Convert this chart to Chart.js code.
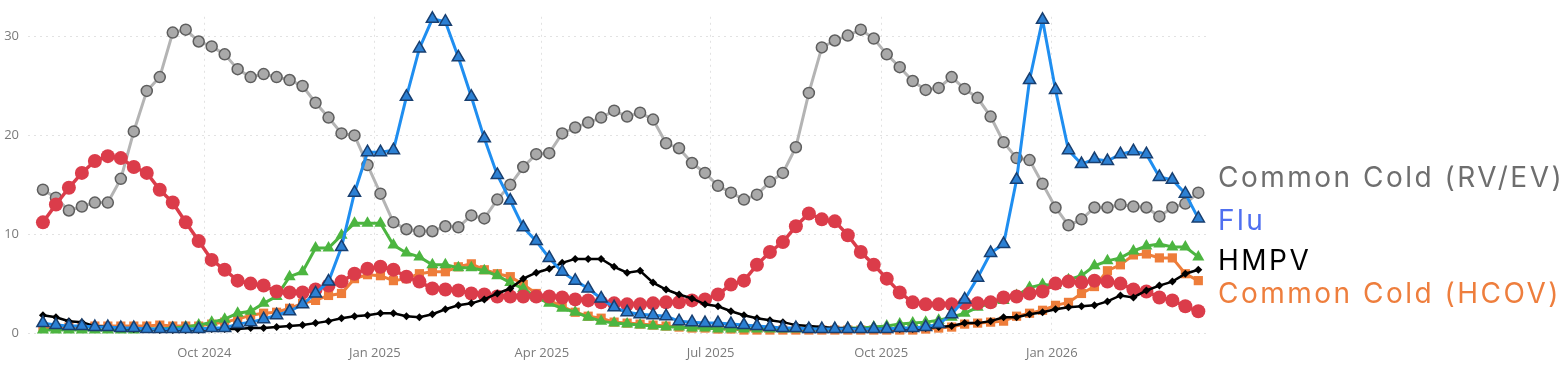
<!DOCTYPE html>
<html>
<head>
<meta charset="utf-8">
<script src="https://cdn.jsdelivr.net/npm/chart.js@4.4.1/dist/chart.umd.min.js"></script>
<style>
  html, body { margin: 0; padding: 0; background: #fff; }
  #wrap { width: 1567px; height: 385px; }
</style>
</head>
<body>
<div id="wrap"><canvas id="chartcanvas" width="1567" height="385"></canvas></div>
<script>
// weekly points, first week ending 2024-07-06
var firstWeek = '2024-07-06';

var xTickDates = ['2024-10-01', '2025-01-01', '2025-04-01', '2025-07-01', '2025-10-01', '2026-01-01'];
var xTickLabels = ['Oct 2024', 'Jan 2025', 'Apr 2025', 'Jul 2025', 'Oct 2025', 'Jan 2026'];
var yTicks = [0, 10, 20, 30];

var rvev = [14.5,13.7,12.4,12.8,13.2,13.2,15.6,20.4,24.5,25.9,
            30.4,30.7,29.5,29.0,28.2,26.7,25.9,26.2,25.9,25.6,
            25.0,23.3,21.8,20.2,20.0,17.0,14.1,11.2,10.5,10.3,
            10.3,10.8,10.7,11.9,11.6,13.5,15.0,16.8,18.1,18.2,
            20.2,20.8,21.3,21.8,22.5,21.9,22.3,21.6,19.2,18.7,
            17.2,16.2,14.9,14.2,13.5,14.0,15.3,16.2,18.8,24.3,
            28.9,29.6,30.1,30.7,29.8,28.2,26.9,25.5,24.6,24.8,
            25.9,24.7,23.8,21.9,19.3,17.7,17.5,15.1,12.7,10.9,
            11.5,12.7,12.7,13.0,12.8,12.7,11.8,12.7,13.1,14.2];

var flu = [1.0,0.8,0.7,0.7,0.6,0.6,0.5,0.5,0.4,0.4,
           0.4,0.4,0.4,0.5,0.5,0.9,1.1,1.4,1.8,2.2,
           2.9,4.0,5.2,8.7,14.2,18.3,18.3,18.5,23.9,28.8,
           31.8,31.5,27.9,23.9,19.7,16.0,13.4,10.7,9.3,7.6,
           6.2,5.3,4.5,3.5,2.6,2.1,1.9,1.8,1.7,1.2,
           1.1,1.0,1.0,0.9,0.8,0.7,0.6,0.5,0.5,0.4,
           0.4,0.4,0.4,0.4,0.4,0.4,0.5,0.5,0.6,0.9,
           1.9,3.4,5.6,8.1,9.0,15.5,25.6,31.7,24.6,18.5,
           17.1,17.6,17.4,18.1,18.4,18.1,15.8,15.5,14.1,11.6];

var hmpv = [1.8,1.6,1.2,1.1,0.7,0.6,0.5,0.4,0.4,0.3,
            0.3,0.3,0.3,0.4,0.4,0.4,0.5,0.5,0.6,0.7,
            0.8,1.0,1.2,1.5,1.7,1.8,2.0,2.0,1.7,1.6,
            1.9,2.4,2.8,3.0,3.4,4.0,4.5,5.5,6.1,6.5,
            7.1,7.5,7.5,7.5,6.7,6.1,6.3,5.1,4.4,3.9,
            3.5,2.9,2.7,2.2,1.8,1.5,1.3,1.1,0.8,0.7,
            0.6,0.5,0.5,0.4,0.4,0.4,0.4,0.4,0.5,0.6,
            0.7,1.0,1.0,1.2,1.6,1.6,1.9,2.1,2.4,2.6,
            2.7,2.8,3.2,3.8,3.6,4.3,4.8,5.2,6.0,6.4];

var hcov = [0.5,0.5,0.6,0.6,0.7,0.7,0.7,0.7,0.7,0.8,
            0.7,0.7,0.7,0.9,1.1,1.4,1.8,2.0,2.1,2.5,
            3.0,3.3,3.8,4.0,5.5,5.9,5.8,5.3,5.5,6.0,
            6.2,6.2,6.7,7.0,6.4,6.0,5.7,4.9,4.0,3.3,
            2.7,2.1,1.7,1.5,1.1,1.0,0.9,0.8,0.7,0.6,
            0.5,0.5,0.4,0.4,0.3,0.3,0.3,0.3,0.3,0.3,
            0.3,0.3,0.3,0.3,0.3,0.3,0.3,0.3,0.4,0.5,
            0.6,0.9,1.0,1.1,1.2,1.7,2.0,2.3,2.8,3.1,
            4.0,4.7,6.3,6.9,7.9,8.0,7.6,7.6,6.0,5.3];

// unlabelled series (red circles, green triangles)
var redValues = [11.2,13.0,14.7,16.2,17.4,17.9,17.7,16.8,16.2,14.5,
                 13.2,11.2,9.3,7.4,6.4,5.3,5.0,4.8,4.2,4.1,
                 4.1,4.4,4.8,5.2,6.0,6.5,6.7,6.4,5.7,5.2,
                 4.5,4.4,4.3,4.0,3.9,3.7,3.7,3.7,3.7,3.7,
                 3.6,3.4,3.3,3.1,3.0,2.9,2.9,3.0,3.1,3.1,
                 3.3,3.4,3.9,4.9,5.3,6.9,8.2,9.2,10.8,12.1,
                 11.5,11.3,9.9,8.2,6.9,5.5,4.1,3.1,2.9,2.9,
                 2.9,3.0,3.0,3.1,3.6,3.7,4.0,4.2,5.0,5.2,
                 5.1,5.3,5.2,5.0,4.4,4.2,3.6,3.3,2.7,2.2];

var greenValues = [0.3,0.3,0.3,0.3,0.3,0.3,0.3,0.3,0.4,0.4,
                   0.5,0.6,0.8,1.1,1.4,2.0,2.2,3.0,3.7,5.7,
                   6.2,8.6,8.6,9.9,11.1,11.1,11.1,8.9,8.1,7.7,
                   6.9,6.9,6.6,6.6,6.3,5.8,5.1,4.5,3.6,3.0,
                   2.5,2.1,1.6,1.2,1.0,0.9,0.8,0.7,0.6,0.6,
                   0.5,0.5,0.4,0.4,0.4,0.4,0.4,0.4,0.4,0.4,
                   0.4,0.4,0.5,0.5,0.6,0.7,0.9,1.0,1.1,1.3,
                   1.6,2.0,2.6,3.0,3.3,3.8,4.6,4.9,4.8,5.4,
                   5.8,6.8,7.3,7.6,8.3,8.8,9.0,8.7,8.7,7.7];

var endLabelTexts = ['Common Cold (RV/EV)', 'Flu', 'HMPV', 'Common Cold (HCOV)'];
var endLabelColors = ['#6e6e6e', '#4f6ff0', '#000000', '#ee7e3d'];

function weeksFrom(d) {
    return (Date.parse(d) - Date.parse(firstWeek)) / (7 * 86400000);
}

function pts(values) {
    return values.map(function(v, i) { return {"x": i, "y": v} });
}

var endLabels = {
    id: 'endLabels',
    afterDraw: (chart, args, options) => {
        const {ctx} = chart;
        ctx.save();
        ctx.font = '28px Inter';
        ctx.letterSpacing = '2.5px';
        ctx.textBaseline = 'alphabetic';
        options.rows.forEach(function(y, i) {
            ctx.fillStyle = endLabelColors[i];
            ctx.fillText(endLabelTexts[i], options.x, y);
        });
        ctx.restore();
    }
};

var ctx = document.getElementById('chartcanvas');
var chart = new Chart(ctx, {
    type: 'line',
    data: {
        datasets: [
            {
                label: 'Flu',
                data: pts(flu),
                borderColor: '#1f8ef0',
                borderWidth: 3,
                pointStyle: 'triangle',
                pointRadius: 7,
                pointBackgroundColor: '#2c80d3',
                pointBorderColor: '#183f70',
                pointBorderWidth: 1.5,
            }, {
                label: 'HMPV',
                data: pts(hmpv),
                borderColor: '#000',
                borderWidth: 2.5,
                pointStyle: 'rectRot',
                pointRadius: 4,
                pointBackgroundColor: '#000',
                pointBorderColor: '#000',
                pointBorderWidth: 0,
            }, {
                label: '',
                data: pts(redValues),
                borderColor: '#db3c4a',
                borderWidth: 3.5,
                pointStyle: 'circle',
                pointRadius: 7,
                pointBackgroundColor: '#db3c4a',
                pointBorderColor: '#db3c4a',
                pointBorderWidth: 0,
            }, {
                label: '',
                data: pts(greenValues),
                borderColor: '#4cb540',
                borderWidth: 3,
                pointStyle: 'triangle',
                pointRadius: 7,
                pointBackgroundColor: '#4cb540',
                pointBorderColor: '#4cb540',
                pointBorderWidth: 0,
            }, {
                label: 'Common Cold (HCOV)',
                data: pts(hcov),
                borderColor: '#ee7d3a',
                borderWidth: 3,
                pointStyle: 'rect',
                pointRadius: 6.5,
                pointBackgroundColor: '#ee7d3a',
                pointBorderColor: '#ee7d3a',
                pointBorderWidth: 0,
            }, {
                label: 'Common Cold (RV/EV)',
                data: pts(rvev),
                borderColor: '#b4b4b4',
                borderWidth: 3,
                pointStyle: 'circle',
                pointRadius: 5.5,
                pointBackgroundColor: '#a9a9a9',
                pointBorderColor: '#5e5e5e',
                pointBorderWidth: 1.5,
            }
        ],
    },
    options: {
        responsive: false,
        animation: { duration: 0 },
        clip: false,
        elements: {
            line: { tension: 0 },
            point: { hoverRadius: 0 },
        },
        layout: {
            padding: { left: 0, right: 357, top: 6, bottom: 0 },
        },
        plugins: {
            legend: { display: false },
            tooltip: { enabled: false },
            endLabels: {
                x: 1218,
                rows: [187, 230, 270, 303],
            },
        },
        scales: {
            x: {
                type: 'linear',
                min: -1.15,
                max: 89.9,
                afterBuildTicks: function(scale) {
                    scale.ticks = xTickDates.map(function(d) { return {value: weeksFrom(d)} });
                },
                afterFit: function(scale) { scale.height = 52; },
                ticks: {
                    padding: 12,
                    color: '#7a7a7a',
                    font: { family: 'Open Sans', size: 13 },
                    maxRotation: 0,
                    autoSkip: false,
                    callback: function(value, index) { return xTickLabels[index]; },
                },
                grid: {
                    color: '#e2e2e2',
                    lineWidth: 1,
                    drawTicks: false,
                },
                border: { display: false, dash: [2, 4] },
            },
            y: {
                type: 'linear',
                min: 0,
                max: 32,
                afterBuildTicks: function(scale) {
                    scale.ticks = yTicks.map(function(v) { return {value: v} });
                },
                afterFit: function(scale) { scale.width = 28; },
                ticks: {
                    padding: 9,
                    color: '#7a7a7a',
                    font: { family: 'Open Sans', size: 13 },
                },
                grid: {
                    color: '#e2e2e2',
                    lineWidth: 1,
                    drawTicks: false,
                },
                border: { display: false, dash: [2, 4] },
            },
        },
    },
    plugins: [endLabels],
});
</script>
</body>
</html>
